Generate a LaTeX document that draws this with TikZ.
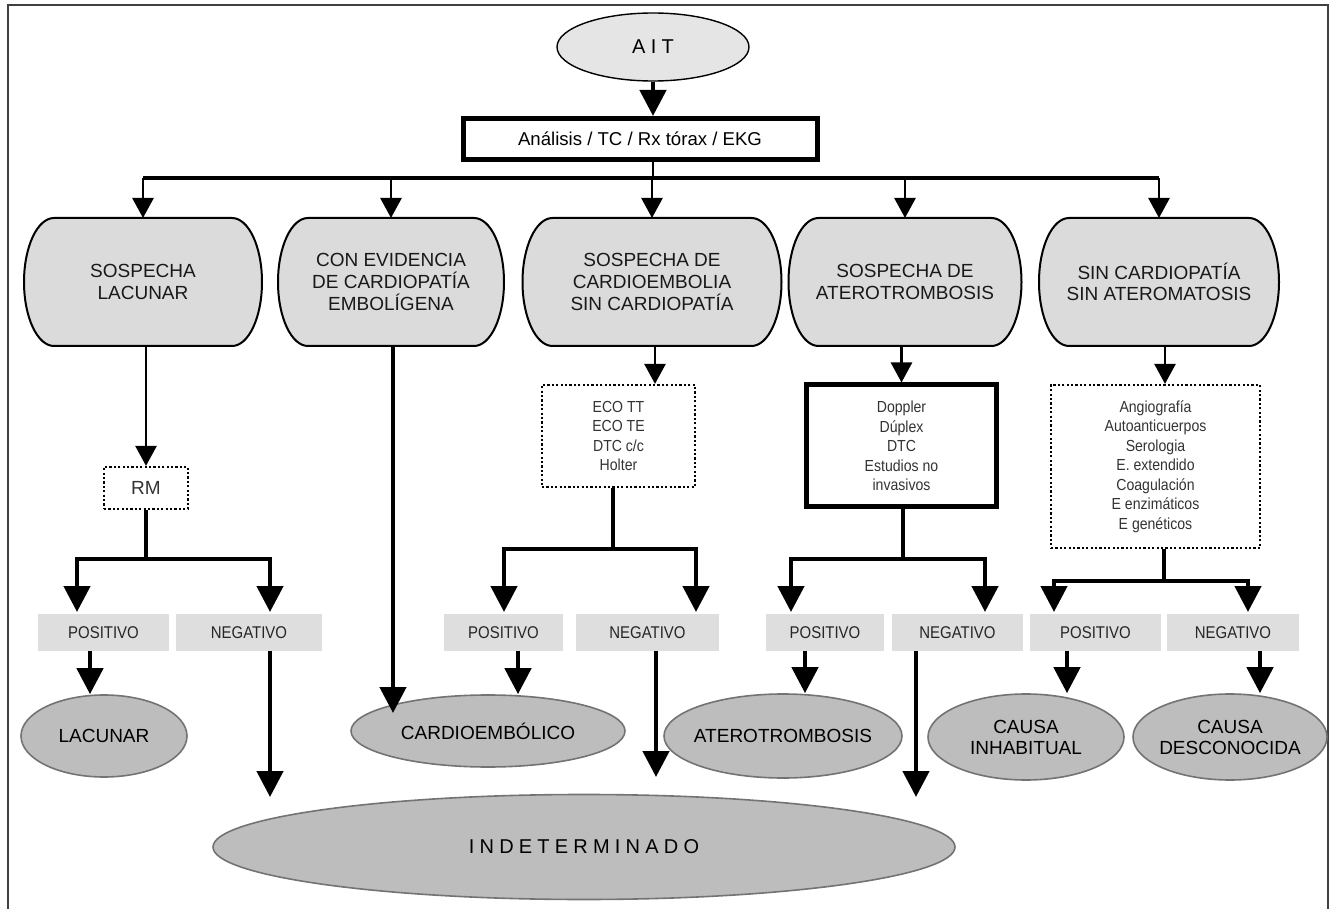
\documentclass[tikz,border=0pt]{standalone}
\usepackage{fontspec}
\usepackage{tikz}
\usetikzlibrary{arrows.meta}
\usetikzlibrary{shapes.geometric}
\usetikzlibrary{backgrounds}
\setmainfont{Liberation Sans}
\newfontfamily\narrowfont[FakeStretch=0.88]{Liberation Sans}
\newfontfamily\spacedfont[LetterSpace=26]{Liberation Sans}
\definecolor{catfill}{gray}{0.86}
\definecolor{aitfill}{gray}{0.9}
\definecolor{lblfill}{gray}{0.87}
\definecolor{resfill}{gray}{0.74}
\definecolor{resline}{gray}{0.45}
\definecolor{txtgray}{gray}{0.2}
\tikzstyle{fhead}=[>/.tip={Triangle[length=10pt,width=10.5pt]}]
\tikzstyle{fl}=[line width=1.3pt,fhead,->]
\tikzstyle{fh}=[line width=2.3pt,>/.tip={Triangle[length=13pt,width=13pt]},->]
\tikzstyle{fn}=[line width=2.3pt]
\tikzstyle{frame}=[line width=0.8pt,black!75]
\tikzstyle{ait}=[ellipse,draw,line width=0.7pt,fill=aitfill,minimum width=96pt,minimum height=34pt,inner sep=0pt,font=\spacedfont\fontsize{10}{12}\selectfont]
\tikzstyle{exam}=[draw,line width=2.5pt,minimum width=177pt,minimum height=20.5pt,inner sep=0pt,font=\fontsize{9.3}{11}\selectfont]
\tikzstyle{cat}=[minimum height=63pt,inner sep=0pt,outer sep=0.5pt,align=center,text=black!90,font=\fontsize{9.5}{10.8}\selectfont]
\tikzstyle{catpath}=[line width=1pt,fill=catfill]
\tikzstyle{test}=[draw,line width=1.1pt,dash pattern=on 1.1pt off 1.1pt,align=center,inner sep=0pt,text=txtgray,font=\narrowfont\fontsize{8}{9.75}\selectfont]
\tikzstyle{testd}=[test,solid,line width=2.5pt]
\tikzstyle{lbl}=[fill=lblfill,minimum height=18.5pt,inner sep=0pt,text=black!85,font=\narrowfont\fontsize{8.5}{10}\selectfont]
\tikzstyle{res}=[ellipse,draw=resline,line width=0.8pt,fill=resfill,inner sep=0pt,align=center,font=\fontsize{9.5}{10.5}\selectfont]

\begin{document}
\begin{tikzpicture}[x=0.5pt,y=-0.5pt]
	\useasboundingbox (0,0) rectangle (1335,909);
	\draw[frame] (8,909) -- (8,5) -- (1328,5) -- (1328,909);

	\node[ait] (ait) at (653,47) {AIT};
	\node[exam] (exam) at (640,139) {Análisis / TC / Rx tórax / EKG};

	\node[cat,minimum width=118pt]   (lacs) at (143,282)  {SOSPECHA\\LACUNAR};
	\node[cat,minimum width=112pt]   (cemb) at (391,282)  {CON EVIDENCIA\\DE CARDIOPATÍA\\EMBOLÍGENA};
	\node[cat,minimum width=128.5pt] (scem) at (652,282)  {SOSPECHA DE\\CARDIOEMBOLIA\\SIN CARDIOPATÍA};
	\node[cat,minimum width=115.5pt] (satr) at (905,282)  {SOSPECHA DE\\ATEROTROMBOSIS};
	\node[cat,minimum width=119pt]   (sinc) at (1159,282) {SIN CARDIOPATÍA\\SIN ATEROMATOSIS};
	\begin{scope}[on background layer]
		\foreach \c in {lacs,cemb,scem,satr,sinc}
			\filldraw[catpath] ([xshift=15pt]\c.north west) -- ([xshift=-15pt]\c.north east)
				arc[start angle=90,end angle=-90,x radius=15pt,y radius=32pt]
				-- ([xshift=15pt]\c.south west)
				arc[start angle=270,end angle=90,x radius=15pt,y radius=32pt] -- cycle;
	\end{scope}

	\node[test,minimum width=42pt,minimum height=21pt,font=\fontsize{9.5}{11}\selectfont] (rm) at (146,488) {RM};
	\node[test,minimum width=76.5pt,minimum height=51pt] (eco) at (618.5,436) {ECO TT\\ECO TE\\DTC c/c\\Holter};
	\node[testd,minimum width=95pt,minimum height=61pt] (dop) at (901.5,446) {Doppler\\Dúplex\\DTC\\Estudios no\\invasivos};
	\node[test,minimum width=104.5pt,minimum height=81.5pt] (ang) at (1155.5,466.5) {Angiografía\\Autoanticuerpos\\Serologia\\E. extendido\\Coagulación\\E enzimáticos\\E genéticos};

	\node[lbl,minimum width=65.5pt] (pos1) at (103.5,632.5) {POSITIVO};
	\node[lbl,minimum width=73pt]   (neg1) at (249,632.5)   {NEGATIVO};
	\node[lbl,minimum width=59.5pt] (pos2) at (503.5,632.5) {POSITIVO};
	\node[lbl,minimum width=71.5pt] (neg2) at (647.5,632.5) {NEGATIVO};
	\node[lbl,minimum width=59pt]   (pos3) at (825,632.5)   {POSITIVO};
	\node[lbl,minimum width=65.5pt] (neg3) at (957.5,632.5) {NEGATIVO};
	\node[lbl,minimum width=65.5pt] (pos4) at (1095.5,632.5) {POSITIVO};
	\node[lbl,minimum width=66pt]   (neg4) at (1233,632.5)  {NEGATIVO};

	\node[res,minimum width=83pt,minimum height=41pt]  (lac)   at (104,736)  {LACUNAR};
	\node[res,minimum width=137pt,minimum height=36pt] (card)  at (488,731)  {CARDIOEMBÓLICO};
	\node[res,minimum width=119pt,minimum height=42pt,inner xsep=-3pt] (ater) at (783,736) {ATEROTROMBOSIS};
	\node[res,minimum width=98pt,minimum height=43pt]  (inhab) at (1026,737) {CAUSA\\INHABITUAL};
	\node[res,minimum width=97pt,minimum height=43pt,inner xsep=-1.5pt] (desc) at (1230,737) {CAUSA\\DESCONOCIDA};
	\node[res,minimum width=371pt,minimum height=52.5pt,font=\spacedfont\fontsize{10}{12}\selectfont] (indet) at (584,847) {INDETERMINADO};

	\draw[fh] (ait.south) -- (ait.south |- exam.north);
	\coordinate (top) at (653,178);
	\draw[line width=1pt] (top |- exam.south) -- (top);
	\draw[line width=2pt] (lacs.north |- top) -- (sinc.north |- top);
	\foreach \c in {lacs,cemb,scem,satr,sinc}
		\draw[fl] (\c.north |- top) -- (\c.north);

	\draw[fl] (rm.north |- lacs.south) -- (rm.north);
	\coordinate (c2) at (393,713);
	\draw[fh] (c2 |- cemb.south) -- (c2);
	\coordinate (c3) at (655,0);
	\draw[fl] (c3 |- scem.south) -- (c3 |- eco.north);
	\draw[fl] (dop.north |- satr.south) -- (dop.north);
	\coordinate (c5) at (1165,0);
	\draw[fl] (c5 |- sinc.south) -- (c5 |- ang.north);

	\coordinate (t1) at (146,559);
	\coordinate (t1a) at (77,612);
	\coordinate (t1b) at (270,612);
	\draw[fn] (rm.south) -- (t1);
	\draw[fh] (t1) -| (t1a);
	\draw[fh] (t1) -| (t1b);
	\coordinate (t2) at (613,549);
	\coordinate (t2a) at (504,612);
	\coordinate (t2b) at (696,612);
	\draw[fn] (t2 |- eco.south) -- (t2);
	\draw[fh] (t2) -| (t2a);
	\draw[fh] (t2) -| (t2b);
	\coordinate (t3) at (903,559);
	\coordinate (t3a) at (791,612);
	\coordinate (t3b) at (985,612);
	\draw[fn] (t3 |- dop.south) -- (t3);
	\draw[fh] (t3) -| (t3a);
	\draw[fh] (t3) -| (t3b);
	\coordinate (t4) at (1164,581);
	\coordinate (t4a) at (1054,612);
	\coordinate (t4b) at (1248,612);
	\draw[fn] (t4 |- ang.south) -- (t4);
	\draw[fh] (t4) -| (t4a);
	\draw[fh] (t4) -| (t4b);

	\coordinate (d1) at (90,0);
	\draw[fh] (d1 |- pos1.south) -- (d1 |- lac.north);
	\coordinate (n1) at (270,797);
	\draw[fh] (n1 |- neg1.south) -- (n1);
	\coordinate (d2) at (518,0);
	\draw[fh] (d2 |- pos2.south) -- (d2 |- card.north);
	\coordinate (n2) at (656,777);
	\draw[fh] (n2 |- neg2.south) -- (n2);
	\coordinate (d3) at (805,0);
	\draw[fh] (d3 |- pos3.south) -- (d3 |- ater.north);
	\coordinate (n3) at (916,797);
	\draw[fh] (n3 |- neg3.south) -- (n3);
	\coordinate (d4) at (1067,0);
	\draw[fh] (d4 |- pos4.south) -- (d4 |- inhab.north);
	\coordinate (d5) at (1260,0);
	\draw[fh] (d5 |- neg4.south) -- (d5 |- desc.north);
\end{tikzpicture}
\end{document}
